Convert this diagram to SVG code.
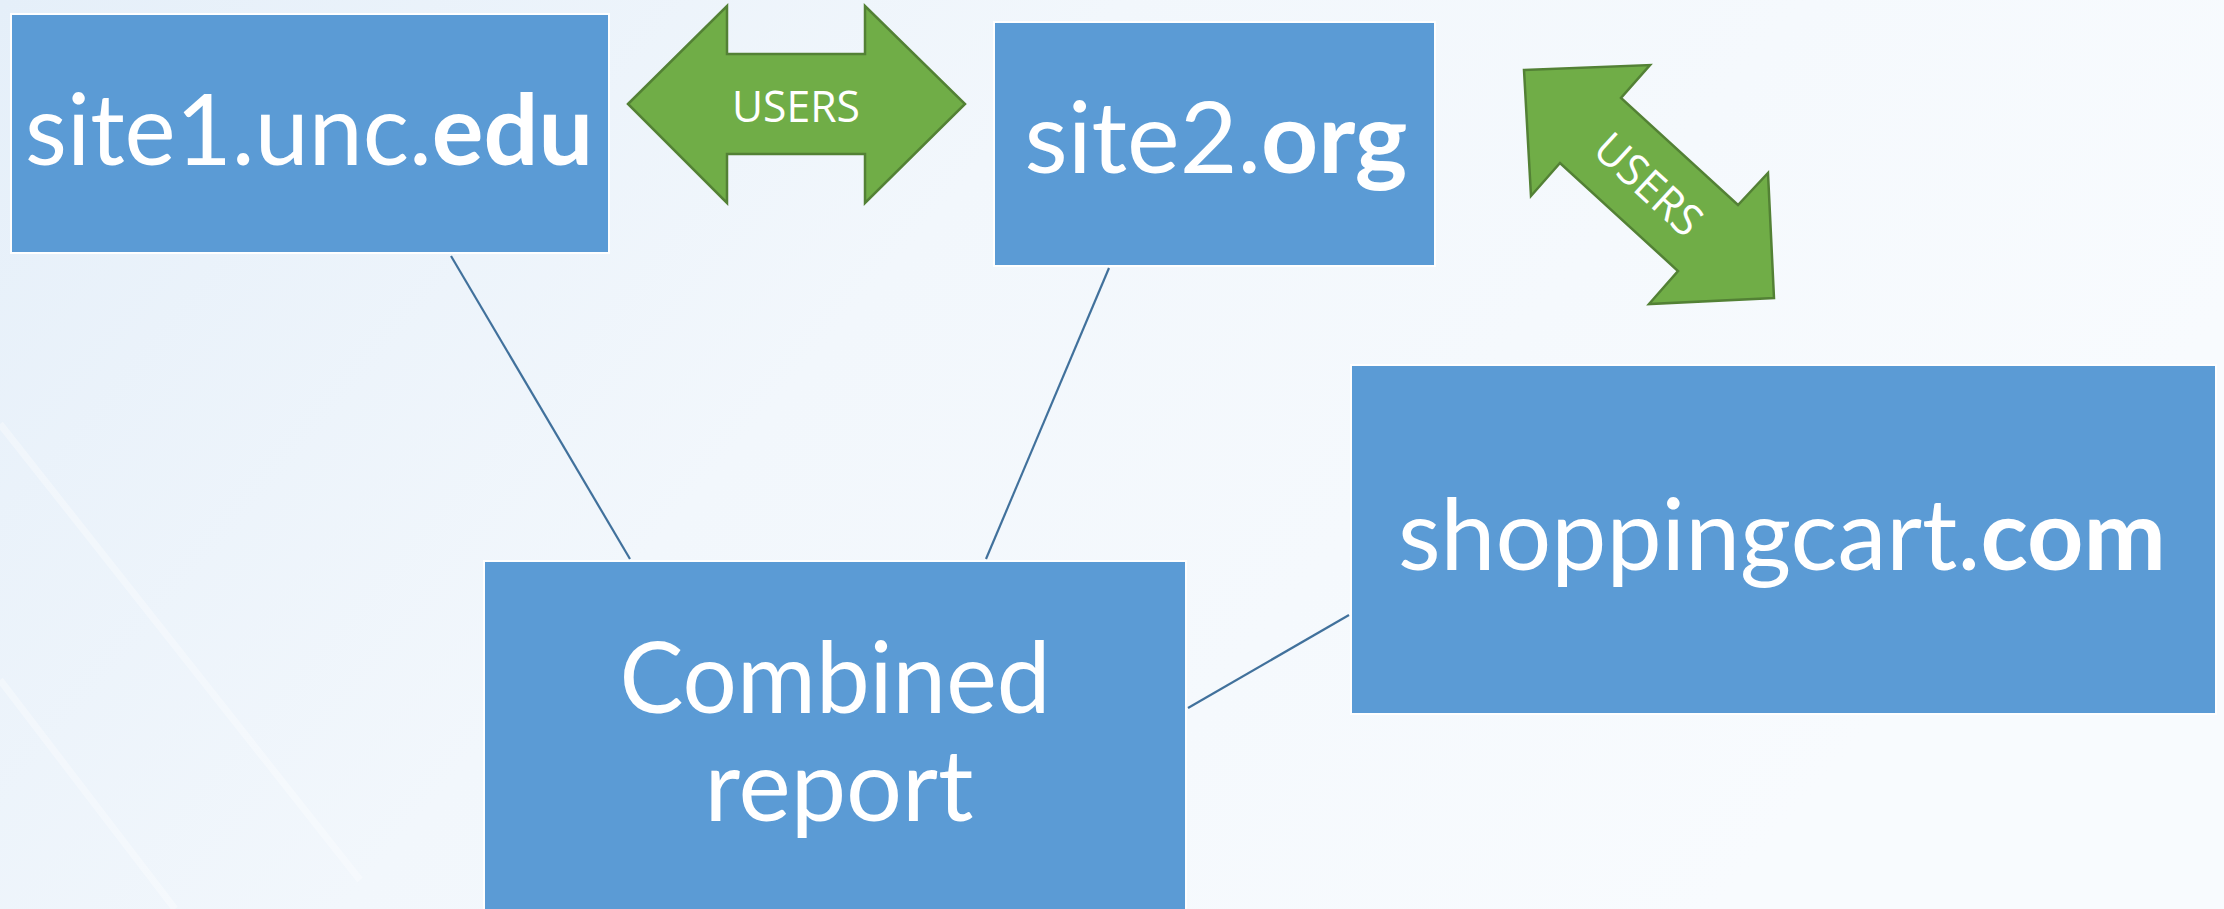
<svg xmlns="http://www.w3.org/2000/svg" width="2224" height="909" viewBox="0 0 2224 909">
  <defs>
    <linearGradient id="bg" x1="0" y1="0" x2="1" y2="0.35">
      <stop offset="0" stop-color="#e5eff9"/>
      <stop offset="0.45" stop-color="#f2f7fc"/>
      <stop offset="1" stop-color="#f8fbfe"/>
    </linearGradient>
    <style>
      .box { fill: #5b9bd5; stroke: #ffffff; stroke-width: 2; }
      .label { fill: #ffffff; font-family: Lato, "Open Sans", "Liberation Sans", sans-serif; font-size: 98px; }
      .b { font-weight: bold; }
      .arrow { fill: #70ad47; stroke: #538135; stroke-width: 2.5; stroke-linejoin: miter; }
      .alabel { fill: #ffffff; font-family: "Open Sans", "Liberation Sans", sans-serif; font-size: 44px; }
      .link { stroke: #41719c; stroke-width: 2.2; fill: none; }
      .streak { stroke: #ffffff; stroke-width: 7; opacity: 0.35; }
    </style>
  </defs>

  <!-- background -->
  <rect x="0" y="0" width="2224" height="909" fill="url(#bg)"/>
  <g>
    <line class="streak" x1="0" y1="424" x2="360" y2="880"/>
    <line class="streak" x1="0" y1="680" x2="175" y2="909"/>
  </g>

  <!-- connectors -->
  <g id="connectors">
    <line class="link" x1="451" y1="256" x2="630" y2="559"/>
    <line class="link" x1="1109" y1="268" x2="986" y2="559"/>
    <line class="link" x1="1188" y1="708" x2="1349" y2="615"/>
  </g>

  <!-- site1.unc.edu -->
  <g id="site1">
    <rect class="box" x="11" y="14" width="598" height="239"/>
    <text class="label" x="309" y="165" text-anchor="middle" textLength="568" lengthAdjust="spacingAndGlyphs">site1.unc.<tspan class="b">edu</tspan></text>
  </g>

  <!-- site2.org -->
  <g id="site2">
    <rect class="box" x="994" y="22" width="441" height="244"/>
    <text class="label" x="1216" y="173" text-anchor="middle" textLength="383" lengthAdjust="spacingAndGlyphs">site2.<tspan class="b">org</tspan></text>
  </g>

  <!-- shoppingcart.com -->
  <g id="shoppingcart">
    <rect class="box" x="1351" y="365" width="865" height="349"/>
    <text class="label" x="1782" y="570" text-anchor="middle" textLength="768" lengthAdjust="spacingAndGlyphs">shoppingcart.<tspan class="b">com</tspan></text>
  </g>

  <!-- Combined report -->
  <g id="combined">
    <rect class="box" x="484" y="561" width="702" height="360"/>
    <text class="label" x="835" y="713" text-anchor="middle" textLength="431" lengthAdjust="spacingAndGlyphs">Combined</text>
    <text class="label" x="839" y="821" text-anchor="middle" textLength="269" lengthAdjust="spacingAndGlyphs">report</text>
  </g>

  <!-- USERS arrow between site1 and site2 -->
  <g id="users1">
    <polygon class="arrow" points="628,104 727,6 727,54 865,54 865,6 965,104 865,203 865,154 727,154 727,203"/>
    <text class="alabel" x="796" y="122" text-anchor="middle" textLength="128" lengthAdjust="spacingAndGlyphs">USERS</text>
  </g>

  <!-- USERS arrow between site2 and shoppingcart -->
  <g id="users2">
    <polygon class="arrow" points="1524,70 1650,65 1621,98 1738,205 1768,173 1774,298 1649,304 1678,271 1560,163 1531,196"/>
    <text class="alabel" x="1649" y="184" dy="16" text-anchor="middle" textLength="128" lengthAdjust="spacingAndGlyphs" transform="rotate(42.5 1649 184)">USERS</text>
  </g>
</svg>
